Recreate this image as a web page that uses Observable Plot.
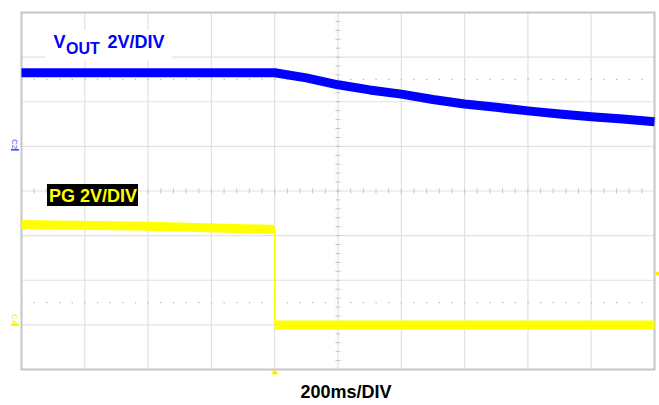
<!DOCTYPE html>
<html><head><meta charset="utf-8">
<script src="https://cdn.jsdelivr.net/npm/d3@7"></script>
<script src="https://cdn.jsdelivr.net/npm/@observablehq/plot@0.6"></script>
<style>html,body{margin:0;padding:0;background:#fff;overflow:hidden;}</style>
</head><body><div id="chart"></div>
<script>
// Time axis: 200 ms/div, 10 divisions, PG falls at t = 0
const gridT = [-800, -600, -400, -200, 0, 200, 400, 600, 800, 1000, 1200];
const gridDiv = [-4, -3, -2, -1, 0, 1, 2, 3, 4];
const voltsPerDiv = 2;
// channel ground offsets (divisions)
const voutOffset = 1;
const pgOffset = -3;

// VOUT (C2, blue)
const voutT = [-800, -400, 0, 100, 200, 300, 400, 500, 600, 700, 800, 900, 1000, 1100, 1200];
const voutV = [3.30, 3.30, 3.30, 3.07, 2.76, 2.53, 2.34, 2.10, 1.90, 1.75, 1.59, 1.45, 1.33, 1.23, 1.10];

// PG (C4, yellow)
const pgHighT = [-800, -400, 0];
const pgHighV = [4.50, 4.42, 4.28];
const pgLowT = [0, 1200];
const pgLowV = [0.0, 0.0];
const pgEdgeT = 0;
const trigLevelV = 2.3;

const vout = voutT.map((t, i) => ({t, v: voutV[i]}));
const pgHigh = pgHighT.map((t, i) => ({t, v: pgHighV[i]}));
const pgLow = pgLowT.map((t, i) => ({t, v: pgLowV[i]}));
const minorT = d3.range(-800, 1201, 40);
const minorDiv = d3.range(-4, 4.001, 0.2);

const NS = "http://www.w3.org/2000/svg";
function box(x, y, w, h, fill) {
  return () => {
    const r = document.createElementNS(NS, "rect");
    r.setAttribute("x", x); r.setAttribute("y", y);
    r.setAttribute("width", w); r.setAttribute("height", h);
    r.setAttribute("fill", fill);
    return r;
  };
}
function chMarker(label, x, y, color) {
  return () => {
    const g = document.createElementNS(NS, "g");
    const t = document.createElementNS(NS, "text");
    t.setAttribute("transform", `translate(${x},${y}) rotate(90)`);
    t.setAttribute("font-size", 8);
    t.setAttribute("text-anchor", "middle");
    t.setAttribute("dy", "0.35em");
    t.setAttribute("fill", color);
    t.textContent = label;
    const r = document.createElementNS(NS, "rect");
    r.setAttribute("x", x - 4); r.setAttribute("y", y + 5);
    r.setAttribute("width", 8); r.setAttribute("height", 1.6);
    r.setAttribute("fill", color);
    g.appendChild(t); g.appendChild(r);
    return g;
  };
}

const font = "Arial, 'Liberation Sans', sans-serif";
const txt = {textAnchor: "start", lineAnchor: "middle", fontWeight: "bold"};
const chart = Plot.plot({
  width: 659, height: 405,
  marginTop: 12, marginRight: 5, marginBottom: 36, marginLeft: 21,
  x: {domain: [-800, 1200], axis: null},
  y: {domain: [-4, 4], axis: null},
  style: {fontFamily: font, background: "#fff"},
  marks: [
    Plot.ruleX(gridT, {stroke: "#e2e2e2", strokeWidth: 1.2}),
    Plot.ruleY(gridDiv, {stroke: "#e2e2e2", strokeWidth: 1.2}),
    Plot.ruleY([2.5, -2.5], {stroke: "#b8b8b8", strokeWidth: 1.2, strokeDasharray: "1.3 11.36"}),
    Plot.link(minorT, {x1: d => d, x2: d => d, y1: -0.055, y2: 0.055, stroke: "#c4c4c4"}),
    Plot.link(minorDiv, {x1: 192, x2: 208, y1: d => d, y2: d => d, stroke: "#c4c4c4"}),
    Plot.frame({stroke: "#c6c6c6", strokeWidth: 2}),
    box(45, 30, 127, 30, "#fff"),
    Plot.line(vout, {x: "t", y: d => d.v / voltsPerDiv + voutOffset, stroke: "#0000ff", strokeWidth: 9, strokeLinecap: "butt", strokeLinejoin: "round"}),
    Plot.ruleX([pgEdgeT], {y1: pgLowV[0] / voltsPerDiv + pgOffset, y2: pgHighV[pgHighV.length - 1] / voltsPerDiv + pgOffset, stroke: "#ffff00", strokeWidth: 1.5}),
    Plot.line(pgHigh, {x: "t", y: d => d.v / voltsPerDiv + pgOffset, stroke: "#ffff00", strokeWidth: 9, strokeLinecap: "butt"}),
    Plot.line(pgLow, {x: "t", y: d => d.v / voltsPerDiv + pgOffset, stroke: "#ffff00", strokeWidth: 9, strokeLinecap: "butt"}),
    Plot.dot([pgEdgeT], {x: d => d, frameAnchor: "bottom", symbol: "triangle", r: 2.6, fill: "#ffee00", dy: 3}),
    Plot.dot([trigLevelV], {y: d => d / voltsPerDiv + pgOffset, frameAnchor: "right", dx: 3, r: 2, fill: "#ffee00"}),
    chMarker("C2", 15, 144, "#3a4dff"),
    chMarker("C4", 15, 319, "#eeee00"),
    Plot.text(["V"], {...txt, frameAnchor: "top-left", dx: 32, dy: 30.2, fontSize: 18, fill: "#0000ff"}),
    Plot.text(["OUT"], {...txt, frameAnchor: "top-left", dx: 44.5, dy: 35.9, fontSize: 16, fill: "#0000ff"}),
    Plot.text(["2V/DIV"], {...txt, frameAnchor: "top-left", dx: 86, dy: 30.2, fontSize: 18, fill: "#0000ff"}),
    box(47, 184, 91, 22, "#000"),
    Plot.text(["PG 2V/DIV"], {...txt, frameAnchor: "top-left", dx: 27.5, dy: 183.7, fontSize: 18, fill: "#ffff00"}),
    Plot.text(["200ms/DIV"], {...txt, textAnchor: "middle", frameAnchor: "bottom", dx: 8, dy: 23.2, fontSize: 18, fill: "#000"})
  ]
});
document.getElementById("chart").appendChild(chart);
</script>
</body></html>
